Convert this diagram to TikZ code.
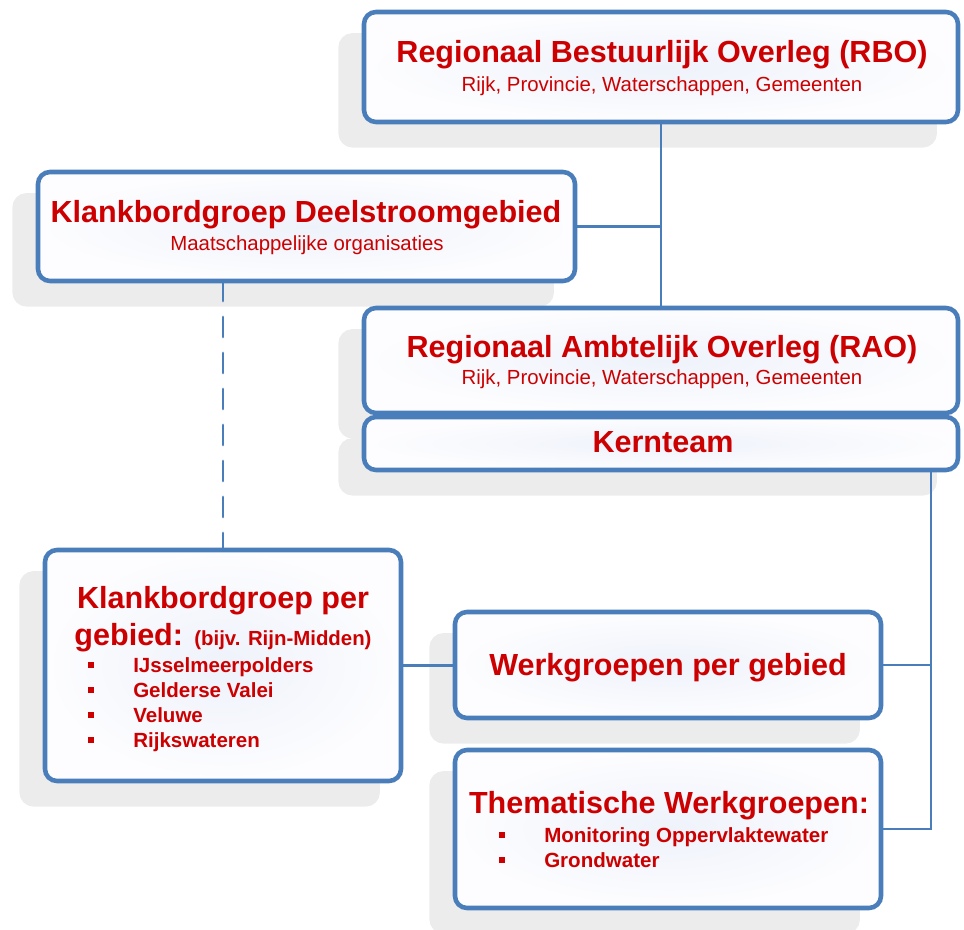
\documentclass[tikz,border=0pt]{standalone}
\usepackage{fontspec}
\setmainfont{Liberation Sans}
\usetikzlibrary{shadows,fit}
\definecolor{boxblue}{RGB}{74,126,187}
\definecolor{txtred}{RGB}{204,0,0}
\definecolor{shadowgray}{RGB}{236,236,236}
\definecolor{boxinner}{RGB}{238,242,250}
\definecolor{boxouter}{RGB}{253,253,255}

\begin{document}
\begin{tikzpicture}[x=0.75pt,y=-0.75pt,
  orgbox/.style={draw=boxblue, line width=3.4pt, rounded corners=9pt,
    inner sep=0pt, outer sep=0pt, inner color=boxinner, outer color=boxouter,
    general shadow={fill=shadowgray, draw=shadowgray, shadow xshift=-17.5pt, shadow yshift=-17.5pt}},
  ttl/.style={text=txtred, font=\fontsize{22.9}{26}\selectfont\bfseries, inner sep=0pt, anchor=base},
  sub/.style={text=txtred, font=\fontsize{15.3}{18}\selectfont, inner sep=0pt, anchor=base},
  itm/.style={text=txtred, font=\fontsize{15.4}{18}\selectfont\bfseries, inner sep=0pt, anchor=base west},
  sq/.style={fill=txtred, minimum size=4.6pt, inner sep=0pt},
  link/.style={draw=boxblue, line width=1.6pt},
  dashlink/.style={draw=boxblue, line width=2.2pt, dash pattern=on 15pt off 12pt, line cap=round}]

\useasboundingbox (0,0) rectangle (964,930);

% boxes
\node[orgbox, fit={(364,12) (958,122)}] (rbo) {};
\node[orgbox, fit={(38,172) (575,281)}] (deel) {};
\node[orgbox, fit={(364,308) (958,413)}] (rao) {};
\node[orgbox, fit={(364,417) (958,470)}] (kern) {};
\node[orgbox, fit={(45,550) (401,781)}] (pg) {};
\node[orgbox, fit={(455,612) (881,718)}] (werk) {};
\node[orgbox, fit={(455,750) (881,908)}] (them) {};

% texts
\node[ttl] (rbo-t) at (662,63) {Regionaal Bestuurlijk Overleg (RBO)};
\node[sub] (rbo-s) at (662,92) {Rijk, Provincie, Waterschappen, Gemeenten};
\node[ttl] (deel-t) at (306,223) {Klankbordgroep Deelstroomgebied};
\node[sub] (deel-s) at (307,251) {Maatschappelijke organisaties};
\node[ttl] (rao-t) at (662,358) {Regionaal Ambtelijk Overleg (RAO)};
\node[sub] (rao-s) at (662,385) {Rijk, Provincie, Waterschappen, Gemeenten};
\node[ttl] (kern-t) at (663,453) {Kernteam};

\node[ttl] (pg-t1) at (223,608) {Klankbordgroep per};
\node[ttl] (pg-t2) at (223,645) {gebied: {\fontsize{15.3}{18}\selectfont(bijv. Rijn-Midden)}};
\node[sq] (pg-b1) at (91,665) {};
\node[itm] (pg-i1) at (133,672) {IJsselmeerpolders};
\node[sq] (pg-b2) at (91,690) {};
\node[itm] (pg-i2) at (133,697) {Gelderse Valei};
\node[sq] (pg-b3) at (91,715) {};
\node[itm] (pg-i3) at (133,722) {Veluwe};
\node[sq] (pg-b4) at (91,740) {};
\node[itm] (pg-i4) at (133,747) {Rijkswateren};

\node[ttl] (werk-t) at (668,675) {Werkgroepen per gebied};

\node[ttl] (them-t) at (669,813) {Thematische Werkgroepen:};
\node[sq] (them-b1) at (502,835) {};
\node[itm] (them-i1) at (544,842) {Monitoring Oppervlaktewater};
\node[sq] (them-b2) at (502,860) {};
\node[itm] (them-i2) at (544,867) {Grondwater};

% connectors
\coordinate (bus) at (931,470);
\draw[link] (rbo.south) -- (rao.north);
\draw[link] (deel.east) -- (deel.east -| rbo.south);
\draw[dashlink] (pg.north |- deel.south) -- (pg.north);
\draw[link] (pg.east) -- (pg.east -| werk.west);
\draw[link] (kern.south -| bus) -- (them.east -| bus) -- (them.east);
\draw[link] (werk.east) -- (werk.east -| bus);
\end{tikzpicture}
\end{document}
